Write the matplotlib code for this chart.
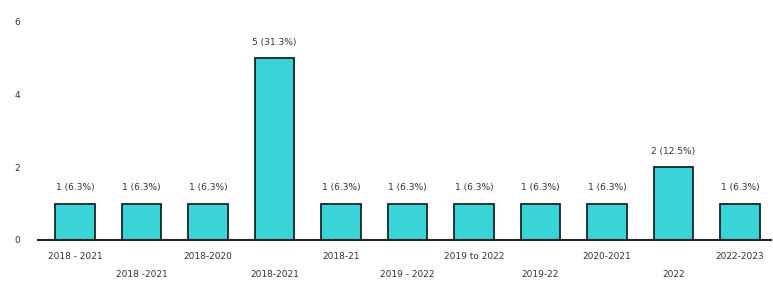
import matplotlib.pyplot as plt
import numpy as np

# Dados
periods = ["2018 - 2021", "2018 -2021", "2018-2020", "2018-2021", "2018-21",
           "2019 - 2022", "2019 to 2022", "2019-22", "2020-2021", "2022", "2022-2023"]
counts = [1, 1, 1, 5, 1, 1, 1, 1, 1, 2, 1]
total = sum(counts)
yticks = [0, 2, 4, 6]

fig = plt.figure(figsize=(7.73, 2.87), dpi=100)
ax = fig.add_axes([0.0497, 0.164, 0.948, 0.766])

x = np.arange(len(periods))
bars = ax.bar(x, counts, width=0.6, color="#38d4d8", edgecolor="#142626", linewidth=1.3)

# Rótulos de valor com percentual (arredondamento para cima em .5)
for xi, c in zip(x, counts):
    pct = np.floor(c / total * 1000 + 0.5) / 10
    ax.text(xi, c + 0.32, f"{c} ({pct:.1f}%)", ha="center", va="bottom",
            fontsize=6.5, color="#333333")

ax.set_xlim(-0.55, len(periods) - 0.53)
ax.set_ylim(0, 6.05)
ax.set_yticks(yticks)
ax.set_yticklabels([str(t) for t in yticks], fontsize=6.5, color="#333333")
ax.tick_params(axis="y", length=0, pad=13)
ax.tick_params(axis="x", length=0)
ax.set_xticks([])

# Rótulos do eixo x alternados em duas linhas
for xi, lab in zip(x, periods):
    off = -0.45 if xi % 2 == 0 else -0.95
    ax.text(xi, off, lab, ha="center", va="center", fontsize=6.5, color="#333333")

for side in ["top", "right", "left"]:
    ax.spines[side].set_visible(False)
ax.spines["bottom"].set_color("#222222")
ax.spines["bottom"].set_linewidth(1.5)

fig.savefig("out.png", dpi=100)
